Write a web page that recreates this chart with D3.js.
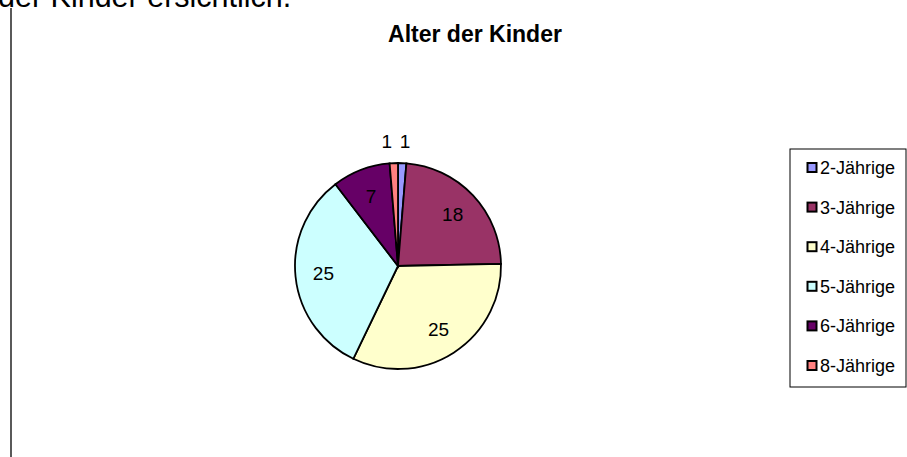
<!DOCTYPE html>
<html lang="de">
<head>
    <meta charset="UTF-8">
    <title>Alter der Kinder</title>
    <script src="https://d3js.org/d3.v7.min.js"></script>
    <style>
        body { margin: 0; background: #fff; }
        svg { display: block; font-family: "Liberation Sans", Arial, sans-serif; }
        .slice { stroke: #000; stroke-width: 1.8; }
        .label { font-size: 19px; fill: #000; }
        .legend-text { font-size: 18px; fill: #000; }
    </style>
</head>
<body>
    <script>
        // Chart data
        const categories = ["2-Jährige", "3-Jährige", "4-Jährige", "5-Jährige", "6-Jährige", "8-Jährige"];
        const values = [1, 18, 25, 25, 7, 1];
        const palette = ["#9999ff", "#993366", "#ffffcc", "#ccffff", "#660066", "#ff8080"];

        const width = 907;
        const height = 457;
        const svg = d3.select("body").append("svg")
            .attr("width", width)
            .attr("height", height);

        // Cut-off line of the surrounding document text
        svg.append("text")
            .attr("x", -2)
            .attr("y", 7)
            .style("font-size", "30.5px")
            .text("der Kinder ersichtlich.");

        // Left border line of the document frame
        svg.append("line")
            .attr("x1", 11).attr("x2", 11)
            .attr("y1", 8).attr("y2", height)
            .attr("stroke", "#000")
            .attr("stroke-width", 1.3);

        // Title
        svg.append("text")
            .attr("x", 475)
            .attr("y", 42)
            .attr("text-anchor", "middle")
            .style("font-size", "23px")
            .style("font-weight", "bold")
            .text("Alter der Kinder");

        const color = d3.scaleOrdinal().domain(categories).range(palette);

        // Pie
        const cx = 398, cy = 266, radius = 103;
        const pie = d3.pie().sort(null).value(d => d.value);
        const arcs = pie(categories.map((c, i) => ({ name: c, value: values[i] })));
        const arc = d3.arc().innerRadius(0).outerRadius(radius);
        const inLabel = d3.arc().innerRadius(75).outerRadius(75);
        const outLabel = d3.arc().innerRadius(125).outerRadius(125);

        const g = svg.append("g").attr("transform", `translate(${cx},${cy})`);

        g.selectAll("path")
            .data(arcs)
            .enter().append("path")
            .attr("class", "slice")
            .attr("d", arc)
            .attr("fill", d => color(d.data.name));

        g.selectAll("text")
            .data(arcs)
            .enter().append("text")
            .attr("class", "label")
            .attr("text-anchor", "middle")
            .attr("dy", "0.35em")
            .attr("transform", d => {
                const small = d.endAngle - d.startAngle < 0.2;
                const p = (small ? outLabel : inLabel).centroid(d);
                // nudge the two tiny outside labels apart a bit
                if (small) p[0] += p[0] < 0 ? -6 : 2;
                return `translate(${p})`;
            })
            .text(d => d.data.value);

        // Legend
        const legend = svg.append("g").attr("transform", "translate(790,149)");
        legend.append("rect")
            .attr("width", 116)
            .attr("height", 238)
            .attr("fill", "#fff")
            .attr("stroke", "#000")
            .attr("stroke-width", 1);

        const legendY = d3.scalePoint().domain(categories).range([18.5, 216.5]);

        const item = legend.selectAll("g.item")
            .data(categories)
            .enter().append("g")
            .attr("class", "item")
            .attr("transform", d => `translate(0,${legendY(d)})`);

        item.append("rect")
            .attr("x", 17.5)
            .attr("y", -4.5)
            .attr("width", 9)
            .attr("height", 9)
            .attr("fill", d => color(d))
            .attr("stroke", "#000")
            .attr("stroke-width", 2);

        item.append("text")
            .attr("class", "legend-text")
            .attr("x", 30)
            .attr("dy", "0.36em")
            .text(d => d);
    </script>
</body>
</html>
